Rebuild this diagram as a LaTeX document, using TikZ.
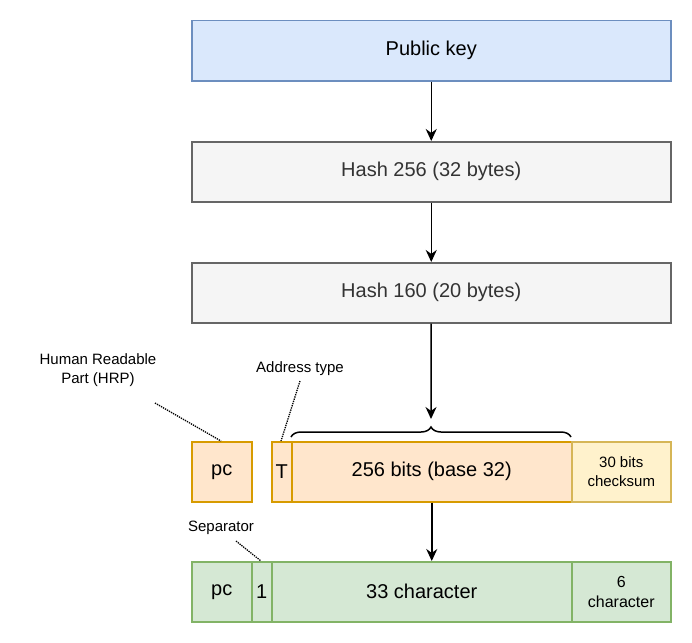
\documentclass[tikz,border=0pt]{standalone}
\usepackage{fontspec}
\setmainfont{Liberation Sans}
\usetikzlibrary{arrows.meta,decorations.pathreplacing}
\definecolor{bfill}{HTML}{DAE8FC}\definecolor{bline}{HTML}{6C8EBF}
\definecolor{gfill}{HTML}{F5F5F5}\definecolor{gline}{HTML}{666666}\definecolor{gtext}{HTML}{333333}
\definecolor{ofill}{HTML}{FFE6CC}\definecolor{oline}{HTML}{D79B00}
\definecolor{yfill}{HTML}{FFF2CC}\definecolor{yline}{HTML}{D6B656}
\definecolor{nfill}{HTML}{D5E8D4}\definecolor{nline}{HTML}{82B366}
\begin{document}
\begin{tikzpicture}[x=1pt,y=-1pt,
 box/.style={draw,line width=1.5pt,minimum height=60pt,inner sep=0pt,anchor=north west,align=center,font=\fontsize{20}{24}\selectfont},
 blue/.style={box,fill=bfill,draw=bline},
 grey/.style={box,fill=gfill,draw=gline,text=gtext},
 ora/.style={box,fill=ofill,draw=oline},
 yel/.style={box,fill=yfill,draw=yline,font=\fontsize{15}{19}\selectfont},
 grn/.style={box,fill=nfill,draw=nline},
 arr/.style={line width=1.5pt,-{Stealth[length=12pt,width=11pt]}},
 dot/.style={densely dotted,line width=1.3pt},
 lab/.style={font=\fontsize{15}{19}\selectfont,align=center,inner sep=1pt}]
\path[use as bounding box] (0,0) rectangle (692,642);
\node[blue,minimum width=479pt] (pk) at (191,20) {Public key};
\node[grey,minimum width=479pt] (h256) at (191,141) {Hash 256 (32 bytes)};
\node[grey,minimum width=479pt] (h160) at (191,262) {Hash 160 (20 bytes)};
\node[ora,minimum width=60pt] (pc) at (191,441) {pc};
\node[ora,minimum width=20pt] (t) at (271,441) {T};
\node[ora,minimum width=280pt] (bits) at (291,441) {256 bits (base 32)};
\node[yel,minimum width=99pt] (cs) at (571,441) {30 bits\\checksum};
\node[grn,minimum width=60pt] (pc2) at (191,561) {pc};
\node[grn,minimum width=20pt] (one) at (251,561) {1};
\node[grn,minimum width=300pt] (c33) at (271,561) {33 character};
\node[grn,minimum width=99pt,font=\fontsize{16}{20}\selectfont] (c6) at (571,561) {6\\character};
\draw[line width=1.5pt,decorate,decoration={brace,amplitude=10pt}] (291,437) -- (571,437);
\coordinate (tip) at (431,419);
\draw[arr] (pk) -- (h256);
\draw[arr] (h256) -- (h160);
\draw[arr] (h160) -- (tip);
\draw[arr] (bits) -- (c33.north -| bits);
\node[lab] (hrp) at (98,370) {Human Readable\\Part (HRP)};
\node[lab] (at) at (300,369) {Address type};
\node[lab] (sep) at (221,528) {Separator};
\coordinate (a1) at (155,403); \coordinate (a2) at (300,381); \coordinate (a3) at (236,541);
\draw[dot] (a1) -- (221,441);
\draw[dot] (a2) -- (281,441);
\draw[dot] (a3) -- (261,561);
\end{tikzpicture}
\end{document}
